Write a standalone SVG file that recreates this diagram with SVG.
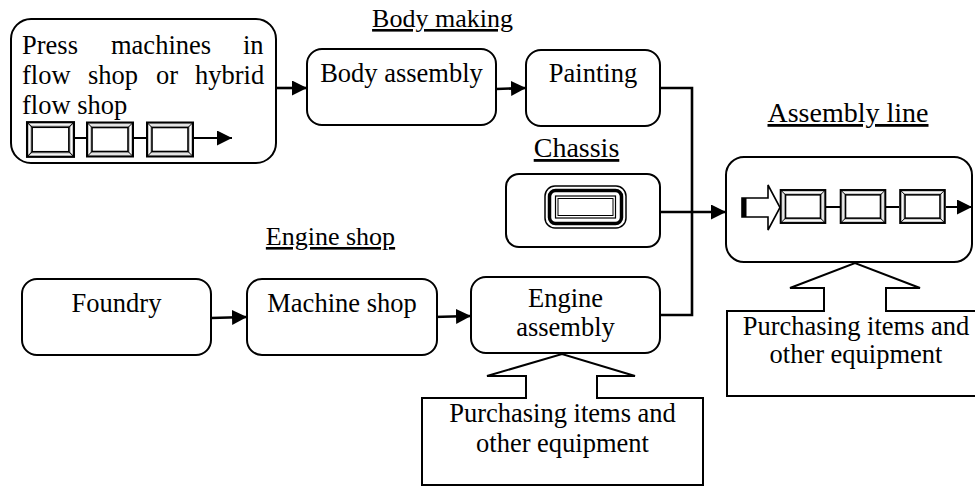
<svg xmlns="http://www.w3.org/2000/svg" xmlns:xlink="http://www.w3.org/1999/xlink" width="975" height="486" viewBox="0 0 975 486">
<style>
.box{fill:#fff;stroke:#000;stroke-width:2}
.txt{font-family:"Liberation Serif","Times New Roman",serif;font-size:26.5px;fill:#000}
.mid{text-anchor:middle}
.title{font-family:"Liberation Serif","Times New Roman",serif;fill:#000;text-anchor:middle;text-decoration:underline}
.conn{fill:none;stroke:#000;stroke-width:2.6}
.thin{fill:none;stroke:#000;stroke-width:2}
</style>
<defs>
<marker id="arr" markerUnits="userSpaceOnUse" markerWidth="16" markerHeight="16" refX="15" refY="7.5" orient="auto">
<path d="M0,0 L15,7.5 L0,15 z" fill="#000"/>
</marker>
<symbol id="mach" viewBox="0 0 46 34" width="46" height="34" overflow="visible">
<rect x="0" y="0" width="46" height="34" fill="#c8c8c8" stroke="#000" stroke-width="2"/>
<rect x="2.5" y="2.5" width="41" height="29" fill="none" stroke="#fff" stroke-width="1"/>
<rect x="5" y="5" width="36" height="24" fill="#fff" stroke="#000" stroke-width="1.6"/>
<path d="M0,0 L5,5 M46,0 L41,5 M0,34 L5,29 M46,34 L41,29" stroke="#000" stroke-width="1"/>
</symbol>
</defs>

<g id="titles">
<text class="title" x="442.5" y="27" font-size="26">Body making</text>
<text class="title" x="576.5" y="157" font-size="28">Chassis</text>
<text class="title" x="848" y="122" font-size="28">Assembly line</text>
<text class="title" x="330.5" y="245" font-size="26">Engine shop</text>
</g>

<g id="connectors">
<line class="conn" x1="276" y1="88" x2="307" y2="88" marker-end="url(#arr)"/>
<line class="conn" x1="496" y1="89" x2="526" y2="88" marker-end="url(#arr)"/>
<polyline class="conn" points="660,88 692,88 692,315 660,315"/>
<line class="conn" x1="660" y1="212" x2="726" y2="212" marker-end="url(#arr)"/>
<line class="conn" x1="211" y1="318" x2="247" y2="317" marker-end="url(#arr)"/>
<line class="conn" x1="433" y1="317" x2="471" y2="316" marker-end="url(#arr)"/>
</g>

<g id="press">
<rect class="box" x="11" y="19" width="265" height="144" rx="20"/>
<text class="txt" y="54"><tspan x="22">Press</tspan><tspan x="111">machines</tspan><tspan x="243">in</tspan></text>
<text class="txt" y="84"><tspan x="22">flow</tspan><tspan x="88">shop</tspan><tspan x="156">or</tspan><tspan x="195">hybrid</tspan></text>
<text class="txt" x="22" y="114">flow shop</text>
<line class="thin" x1="74" y1="138" x2="88" y2="138"/>
<line class="thin" x1="133" y1="138" x2="148" y2="138"/>
<line class="thin" x1="193" y1="138" x2="232" y2="138" marker-end="url(#arr)"/>
<use xlink:href="#mach" x="27" y="122" width="47" height="35"/>
<use xlink:href="#mach" x="87" y="122" width="46" height="35"/>
<use xlink:href="#mach" x="147" y="122" width="46" height="35"/>
</g>

<g id="body-assembly">
<rect class="box" x="307" y="49" width="189" height="76" rx="15"/>
<text class="txt mid" x="401.5" y="82">Body assembly</text>
</g>

<g id="painting">
<rect class="box" x="526" y="50" width="134" height="76" rx="15"/>
<text class="txt mid" x="593" y="82">Painting</text>
</g>

<g id="chassis">
<rect class="box" x="506" y="174" width="154" height="73" rx="13"/>
<rect x="545" y="186" width="81" height="42" rx="10" fill="#fff" stroke="#000" stroke-width="1.5"/>
<rect x="549.5" y="190.5" width="72" height="33" rx="6" fill="#fff" stroke="#000" stroke-width="3.5"/>
<rect x="555.5" y="196" width="60" height="22" fill="#fff" stroke="#000" stroke-width="1.2"/>
<rect x="558" y="198.5" width="55" height="17" fill="#fff" stroke="#000" stroke-width="1"/>
</g>

<g id="assembly-line">
<rect class="box" x="726" y="157" width="246" height="105" rx="18"/>
<path d="M742,198 L768,198 L768,185 L780,207.5 L768,230 L768,217 L742,217 Z" fill="#fff" stroke="#000" stroke-width="1.6"/>
<rect x="742" y="198" width="4.5" height="19" fill="#000"/>
<line class="thin" x1="826" y1="207" x2="840" y2="207"/>
<line class="thin" x1="886" y1="207" x2="899" y2="207"/>
<line class="thin" x1="946" y1="207" x2="972" y2="207" marker-end="url(#arr)"/>
<use xlink:href="#mach" x="780" y="190" width="46" height="33"/>
<use xlink:href="#mach" x="840" y="190" width="46" height="33"/>
<use xlink:href="#mach" x="899" y="190" width="47" height="33"/>
</g>

<g id="foundry">
<rect class="box" x="22" y="279" width="189" height="76" rx="15"/>
<text class="txt mid" x="116.5" y="312">Foundry</text>
</g>

<g id="machine-shop">
<rect class="box" x="247" y="279" width="190" height="76" rx="15"/>
<text class="txt mid" x="342" y="312">Machine shop</text>
</g>

<g id="engine-assembly">
<rect class="box" x="471" y="277" width="189" height="76" rx="15"/>
<text class="txt mid" x="565.5" y="307">Engine</text>
<text class="txt mid" x="565.5" y="336">assembly</text>
</g>

<g id="purchasing-engine">
<path class="box" d="M422,398 L526,398 L526,376 L487,376 L562,354 L635,376 L597,376 L597,398 L703,398 L703,485 L422,485 Z"/>
<text class="txt mid" x="562.5" y="422">Purchasing items and</text>
<text class="txt mid" x="562.5" y="452">other equipment</text>
</g>

<g id="purchasing-line">
<path class="box" d="M727,311 L824,311 L824,288 L790,288 L855,263 L920,288 L886,288 L886,311 L978,311 L978,396 L727,396 Z"/>
<text class="txt mid" x="856" y="335">Purchasing items and</text>
<text class="txt mid" x="856" y="363">other equipment</text>
</g>
</svg>
